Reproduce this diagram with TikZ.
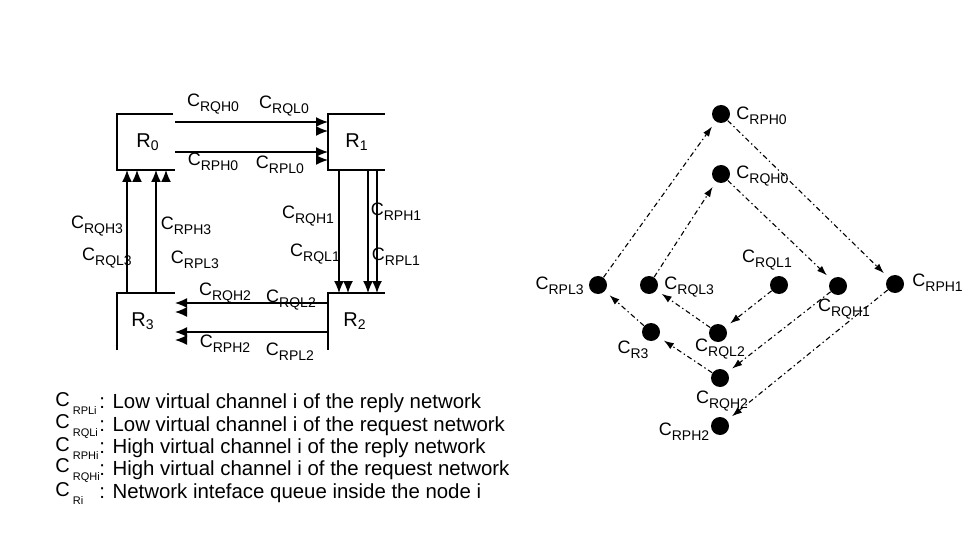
\documentclass[tikz,border=0pt]{standalone}
\usepackage{fontspec}
\setmainfont{Liberation Sans}
\usetikzlibrary{arrows.meta,positioning}

\newcommand{\chn}[1]{{\fontsize{9}{10}\selectfont C}\raisebox{-2.5pt}{\fontsize{7}{8}\selectfont #1}}
\newcommand{\keyc}[1]{{\fontsize{10}{12}\selectfont C}\,\raisebox{-4pt}{\fontsize{5.5}{6}\selectfont #1}}

\begin{document}
\begin{tikzpicture}[
  x=0.5pt, y=-0.5pt,
  font=\fontsize{9}{10}\selectfont,
  wall/.style={line width=0.7pt},
  link/.style={line width=0.7pt, -{Latex[length=6pt,width=5pt]}},
  vc/.style={line width=0.7pt, -{Latex[length=6pt,width=5pt]}},
  rtr/.style={font=\fontsize{10}{12}\selectfont, inner sep=1pt},
  lbl/.style={inner sep=0pt},
  vcn/.style={circle, fill=black, inner sep=0pt, minimum size=9pt},
  dep/.style={line width=0.55pt, dash pattern=on 2.5pt off 1.5pt on 0.7pt off 1.5pt,
    -{Latex[length=5pt,width=3.5pt]}, shorten >=3pt},
  key/.style={anchor=west, inner sep=0pt},
  keytxt/.style={anchor=west, inner sep=0pt, font=\fontsize{10.2}{12}\selectfont}
]
\useasboundingbox (0,0) rectangle (977,550);

% routers
\draw[wall] (173,114) -- (117,114) -- (117,170) -- (175,170);
\draw[wall] (385,114) -- (328,114) -- (328,170) -- (385,170);
\draw[wall] (175,293) -- (117,293) -- (117,350);
\draw[wall] (385,293) -- (328,293) -- (328,350);
\node[rtr] (r0) at (148,142) {R\textsubscript{0}};
\node[rtr] (r1) at (357,142) {R\textsubscript{1}};
\node[rtr] (r3) at (143,321) {R\textsubscript{3}};
\node[rtr] (r2) at (355,321) {R\textsubscript{2}};

% link end points
\coordinate (q0s) at (175,122);  \coordinate (q0t) at (328,122);
\coordinate (p0s) at (175,152);  \coordinate (p0t) at (328,152);
\coordinate (q3s) at (127,293);  \coordinate (q3t) at (127,170);
\coordinate (p3s) at (156,293);  \coordinate (p3t) at (156,170);
\coordinate (q1s) at (339,170);  \coordinate (q1t) at (339,293);
\coordinate (p1s) at (368,170);  \coordinate (p1t) at (368,293);
\coordinate (p1s') at (377,170); \coordinate (p1t') at (377,293);
\coordinate (q2s) at (328,303);  \coordinate (q2t) at (175,303);
\coordinate (p2s) at (328,332);  \coordinate (p2t) at (175,332);

% physical links
\draw[link] (q0s) -- (q0t);
\draw[link] (p0s) -- (p0t);
\draw[link] (q3s) -- (q3t);
\draw[link] (p3s) -- (p3t);
\draw[link] (q1s) -- (q1t);
\draw[link] (p1s) -- (p1t);
\draw[link] (p1s') -- (p1t');
\draw[link] (q2s) -- (q2t);
\draw[link] (p2s) -- (p2t);

% second virtual channel heads
\draw[vc] ([xshift=-6.2pt,yshift=-4.5pt]q0t) -- ([yshift=-4.5pt]q0t);
\draw[vc] ([xshift=-6.2pt,yshift=-4pt]p0t) -- ([yshift=-4pt]p0t);
\draw[vc] ([xshift=5pt,yshift=-6.2pt]q3t) -- ([xshift=5pt]q3t);
\draw[vc] ([xshift=5pt,yshift=-6.2pt]p3t) -- ([xshift=5pt]p3t);
\draw[vc] ([xshift=4.5pt,yshift=6.2pt]q1t) -- ([xshift=4.5pt]q1t);
\draw[vc] ([xshift=6.2pt,yshift=-4.5pt]q2t) -- ([yshift=-4.5pt]q2t);
\draw[vc] ([xshift=6.2pt,yshift=-4pt]p2t) -- ([yshift=-4pt]p2t);

% channel labels
\node[lbl] (lq0h) at (213,104) {\chn{RQH0}};
\node[lbl] (lq0l) at (284,106) {\chn{RQL0}};
\node[lbl] (lp0h) at (213,162) {\chn{RPH0}};
\node[lbl] (lp0l) at (280,165) {\chn{RPL0}};
\node[lbl] (lq3h) at (97,226)  {\chn{RQH3}};
\node[lbl] (lp3h) at (186,226) {\chn{RPH3}};
\node[lbl] (lq3l) at (107,258) {\chn{RQL3}};
\node[lbl] (lp3l) at (195,260) {\chn{RPL3}};
\node[lbl] (lq1h) at (308,216) {\chn{RQH1}};
\node[lbl] (lp1h) at (396,212) {\chn{RPH1}};
\node[lbl] (lq1l) at (315,254) {\chn{RQL1}};
\node[lbl] (lp1l) at (396,257) {\chn{RPL1}};
\node[lbl] (lq2h) at (225,293) {\chn{RQH2}};
\node[lbl] (lq2l) at (291,300) {\chn{RQL2}};
\node[lbl] (lp2h) at (225,344) {\chn{RPH2}};
\node[lbl] (lp2l) at (290,352) {\chn{RPL2}};

% legend
\node[key] (k1) at (55,404) {\keyc{RPLi}};
\node[key] (k2) at (55,427) {\keyc{RQLi}};
\node[key] (k3) at (55,449) {\keyc{RPHi}};
\node[key] (k4) at (55,471) {\keyc{RQHi}};
\node[key] (k5) at (55,494) {\keyc{Ri}};
\node[keytxt] (t1) at (99,403) {: Low virtual channel i of the reply network};
\node[keytxt] (t2) at (99,426) {: Low virtual channel i of the request network};
\node[keytxt] (t3) at (99,448) {: High virtual channel i of the reply network};
\node[keytxt] (t4) at (99,470) {: High virtual channel i of the request network};
\node[keytxt] (t5) at (99,493) {: Network inteface queue inside the node i};

% dependency graph
\node[vcn] (rph0) at (721,114) {};
\node[vcn] (rqh0) at (721,174) {};
\node[vcn] (rpl3) at (598,285) {};
\node[vcn] (rql3) at (649,285) {};
\node[vcn] (rql1) at (779,285) {};
\node[vcn] (rqh1) at (838,286) {};
\node[vcn] (rph1) at (895,284) {};
\node[vcn] (rql2) at (718,333) {};
\node[vcn] (rs3)  at (651,332) {};
\node[vcn] (rqh2) at (720,378) {};
\node[vcn] (rph2) at (720,426) {};

\draw[dep] (rpl3) -- (rph0);
\draw[dep] (rph0) -- (rph1);
\draw[dep] (rph1) -- (rph2);
\draw[dep] (rql3) -- (rqh0);
\draw[dep] (rqh0) -- (rqh1);
\draw[dep] (rqh1) -- (rqh2);
\draw[dep] (rql1) -- (rql2);
\draw[dep] (rql2) -- (rql3);
\draw[dep] (rqh2) -- (rs3);
\draw[dep] (rs3) -- (rpl3);

\node[lbl, anchor=west] (nrph0) at (736,116) {\chn{RPH0}};
\node[lbl, anchor=west] (nrqh0) at (736,176) {\chn{RQH0}};
\node[lbl, anchor=east] (nrpl3) at (584,286) {\chn{RPL3}};
\node[lbl, anchor=west] (nrql3) at (664,287) {\chn{RQL3}};
\node[lbl] (nrql1) at (767,260) {\chn{RQL1}};
\node[lbl] (nrqh1) at (844,309) {\chn{RQH1}};
\node[lbl, anchor=west] (nrph1) at (912,283) {\chn{RPH1}};
\node[lbl] (nrql2) at (720,349) {\chn{RQL2}};
\node[lbl] (nrs3) at (633,350) {\chn{R3}};
\node[lbl] (nrqh2) at (722,401) {\chn{RQH2}};
\node[lbl] (nrph2) at (684,432) {\chn{RPH2}};
\end{tikzpicture}
\end{document}
